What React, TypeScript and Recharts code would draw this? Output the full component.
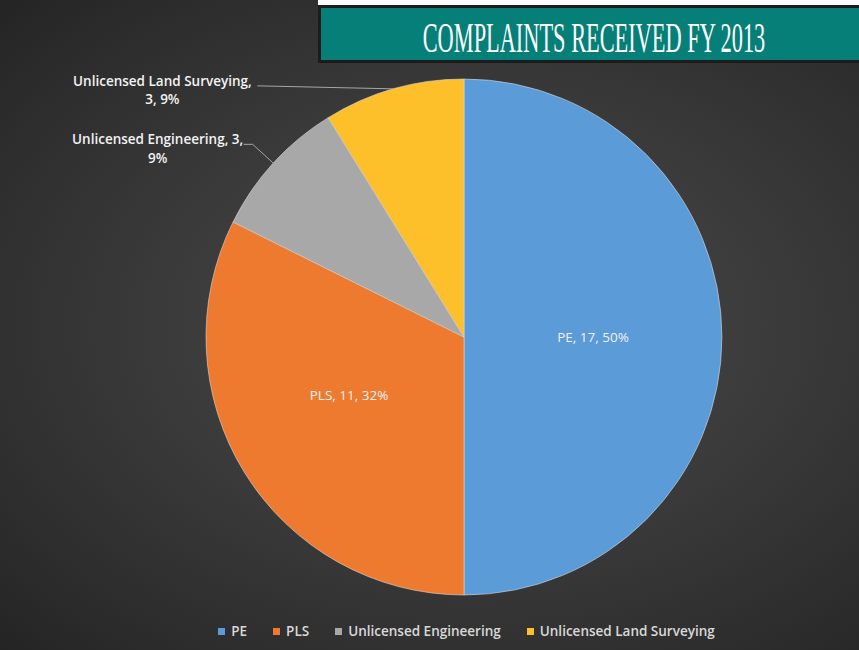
import React from "react";
import { PieChart, Pie, Cell, Legend } from "recharts";

const categories = ["PE", "PLS", "Unlicensed Engineering", "Unlicensed Land Surveying"];
const complaintCounts = [17, 11, 3, 3];
const percentLabels = ["50%", "32%", "9%", "9%"];
const sliceColors = ["#5b9bd8", "#ee7a30", "#a8a8a8", "#fdbf2a"];
const titleText = "COMPLAINTS RECEIVED FY 2013";

const data = categories.map((name, i) => ({
  name,
  value: complaintCounts[i],
  pct: percentLabels[i],
}));

const W = 859;
const H = 650;
const RAD = Math.PI / 180;
const FONT = "'Open Sans', 'Noto Sans', sans-serif";

const polar = (cx: number, cy: number, r: number, angle: number) => ({
  x: cx + r * Math.cos(-angle * RAD),
  y: cy + r * Math.sin(-angle * RAD),
});

const renderLabel = (props: any) => {
  const { cx, cy, midAngle, outerRadius, index, payload } = props;
  const name = payload?.name ?? categories[index];
  const value = payload?.value ?? complaintCounts[index];
  const pct = payload?.pct ?? percentLabels[index];
  const txtStyle = {
    fill: "#f2f2f2",
    fontFamily: FONT,
    fontSize: 13.5,
    fontWeight: 600,
  } as React.CSSProperties;
  if (index < 2) {
    const p = polar(cx, cy, outerRadius * 0.5, midAngle - (index === 1 ? 4.8 : 0));
    return (
      <text
        key={`l${index}`}
        x={p.x}
        y={p.y}
        textAnchor="middle"
        dominantBaseline="central"
        style={{ ...txtStyle, fontWeight: 400, fontSize: 13.5 }}
      >
        {`${name}, ${value}, ${pct}`}
      </text>
    );
  }
  const edge = polar(cx, cy, outerRadius, midAngle);
  if (index === 2) {
    const elbow = polar(cx, cy, outerRadius + 28, midAngle);
    const endX = elbow.x - 9;
    const tx = endX - 86;
    return (
      <g key={`l${index}`}>
        <polyline
          points={`${edge.x},${edge.y} ${elbow.x},${elbow.y} ${endX},${elbow.y}`}
          fill="none"
          stroke="#a6a6a6"
          strokeWidth={1}
        />
        <text x={tx} y={elbow.y} textAnchor="middle" style={txtStyle}>
          {`${name}, ${value},`}
        </text>
        <text x={tx} y={elbow.y + 19} textAnchor="middle" style={txtStyle}>
          {pct}
        </text>
      </g>
    );
  }
  const endX = edge.x - 136;
  const ly = edge.y - 3;
  const tx = endX - 95;
  return (
    <g key={`l${index}`}>
      <polyline
        points={`${edge.x},${edge.y} ${endX},${ly}`}
        fill="none"
        stroke="#a6a6a6"
        strokeWidth={1}
      />
      <text x={tx} y={ly} textAnchor="middle" style={txtStyle}>
        {`${name},`}
      </text>
      <text x={tx} y={ly + 18} textAnchor="middle" style={txtStyle}>
        {`${value}, ${pct}`}
      </text>
    </g>
  );
};

const renderLegend = () => (
  <div
    style={{
      display: "flex",
      justifyContent: "center",
      alignItems: "center",
      fontFamily: FONT,
      fontSize: 13.5,
      fontWeight: 600,
      color: "#d9d9d9",
      gap: 26,
      paddingLeft: 74,
    }}
  >
    {categories.map((c, i) => (
      <span key={c} style={{ display: "flex", alignItems: "center" }}>
        <span
          style={{
            width: 7,
            height: 7,
            background: sliceColors[i],
            display: "inline-block",
            marginRight: 6,
          }}
        />
        {c}
      </span>
    ))}
  </div>
);

export default function App() {
  const titleScale = 0.52;
  return (
    <div
      style={{
        position: "absolute",
        left: 0,
        top: 0,
        width: W,
        height: H,
        overflow: "hidden",
        background:
          "radial-gradient(ellipse at 55% 50%, #494949 0%, #3b3b3b 45%, #2b2b2b 85%, #242424 100%)",
      }}
    >
      <svg
        width={W}
        height={H}
        style={{ position: "absolute", left: 0, top: 0 }}
      >
        <rect x={318} y={0} width={W - 318} height={5} fill="#ffffff" />
        <rect x={318} y={5} width={W - 318 + 4} height={58} fill="#1c1c1c" />
        <rect x={321} y={8} width={W - 321} height={52} fill="#077f79" />
        <g transform={`translate(594, 52) scale(${titleScale}, 1)`}>
          <text
            x={0}
            y={0}
            textAnchor="middle"
            style={{
              fill: "#ffffff",
              fontFamily: "'Liberation Serif', 'DejaVu Serif', serif",
              fontSize: 43,
              fontWeight: 400,
            }}
          >
            {titleText}
          </text>
        </g>
      </svg>
      <div style={{ position: "absolute", left: 0, top: 0 }}>
        <PieChart width={W} height={H} margin={{ top: 0, right: 0, bottom: 0, left: 0 }}>
          <Pie
            data={data}
            dataKey="value"
            nameKey="name"
            cx={464}
            cy={337}
            outerRadius={258}
            startAngle={90}
            endAngle={-270}
            stroke="#d8d8d8"
            strokeWidth={0.6}
            label={renderLabel}
            labelLine={false}
            isAnimationActive={false}
          >
            {data.map((d, i) => (
              <Cell key={d.name} fill={sliceColors[i]} />
            ))}
          </Pie>
          <Legend
            verticalAlign="bottom"
            content={renderLegend}
            wrapperStyle={{ bottom: 10, left: 0, width: W }}
          />
        </PieChart>
      </div>
    </div>
  );
}
